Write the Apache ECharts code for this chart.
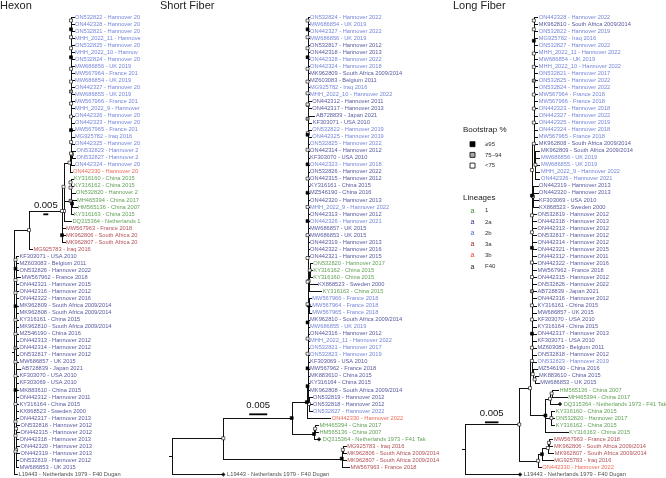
<!DOCTYPE html>
<html><head><meta charset="utf-8">
<script src="https://cdn.jsdelivr.net/npm/echarts@6/dist/echarts.min.js"></script>
<style>html,body{margin:0;padding:0;background:#fff}#c{width:666px;height:478px}</style>
</head><body><div id="c"></div>
<script>
// ---------------- DATA ----------------
const panelTitles = ['Hexon', 'Short Fiber', 'Long Fiber'];

const hexonLeaves = ["ON532822 - Hannover 2019","ON442328 - Hannover 2022","ON532821 - Hannover 2017","MHH_2022_11 - Hannover 2022","ON532825 - Hannover 2022","MHH_2022_10 - Hannover 2022","ON532824 - Hannover 2022","MW686856 - UK 2019","MW567964 - France 2018","MW686854 - UK 2019","ON442327 - Hannover 2022","MW686855 - UK 2019","MW567966 - France 2018","MHH_2022_9 - Hannover 2022","ON442326 - Hannover 2021","ON442323 - Hannover 2018","MW567965 - France 2018","MG925782 - Iraq 2016","ON442325 - Hannover 2019","ON532823 - Hannover 2019","ON532827 - Hannover 2022","ON442324 - Hannover 2018","ON442330 - Hannover 2022","KY316160 - China 2015","KY316162 - China 2015","ON532820 - Hannover 2017","MH465394 - China 2017","HM565136 - China 2007","KY316163 - China 2015","DQ315364 - Netherlands 1973 - F41 Tak","MW567963 - France 2018","MK962806 - South Africa 2009/2014","MK962807 - South Africa 2009/2014","MG925783 - Iraq 2016","KF303071 - USA 2010","MZ603083 - Belgium 2011","ON532826 - Hannover 2022","MW567962 - France 2018","ON442321 - Hannover 2015","ON442316 - Hannover 2012","ON442322 - Hannover 2016","MK962809 - South Africa 2009/2014","MK962808 - South Africa 2009/2014","KY316161 - China 2015","MK962810 - South Africa 2009/2014","MZ546190 - China 2016","ON442313 - Hannover 2012","ON442314 - Hannover 2012","ON532817 - Hannover 2012","MW686857 - UK 2015","AB728839 - Japan 2021","KF303070 - USA 2010","KF303069 - USA 2010","MK883610 - China 2015","ON442312 - Hannover 2011","KY316164 - China 2015","KX868523 - Sweden 2000","ON442317 - Hannover 2013","ON532818 - Hannover 2012","ON442315 - Hannover 2012","ON442318 - Hannover 2013","ON442320 - Hannover 2013","ON442319 - Hannover 2013","ON532819 - Hannover 2012","MW686853 - UK 2015","L19443 - Netherlands 1979 - F40 Dugan"];

const shortLeaves = ["ON532824 - Hannover 2022","MW686854 - UK 2019","ON442327 - Hannover 2022","MW686856 - UK 2019","ON532817 - Hannover 2012","ON442318 - Hannover 2013","ON442328 - Hannover 2022","ON442324 - Hannover 2018","MK962809 - South Africa 2009/2014","MZ603083 - Belgium 2011","MG925782 - Iraq 2016","MHH_2022_10 - Hannover 2022","ON442312 - Hannover 2011","ON442317 - Hannover 2013","AB728839 - Japan 2021","KF303071 - USA 2010","ON532822 - Hannover 2019","ON442325 - Hannover 2019","ON532825 - Hannover 2022","ON442314 - Hannover 2012","KF303070 - USA 2010","ON442323 - Hannover 2018","ON532826 - Hannover 2022","ON442315 - Hannover 2012","KY316161 - China 2015","MZ546190 - China 2016","ON442320 - Hannover 2013","MHH_2022_9 - Hannover 2022","ON442313 - Hannover 2012","ON442326 - Hannover 2021","MW686857 - UK 2015","MW686853 - UK 2015","ON442319 - Hannover 2013","ON442322 - Hannover 2016","ON442321 - Hannover 2015","ON532820 - Hannover 2017","KY316162 - China 2015","KY316160 - China 2015","KX868523 - Sweden 2000","KY316163 - China 2015","MW567966 - France 2018","MW567964 - France 2018","MW567965 - France 2018","MK962810 - South Africa 2009/2014","MW686855 - UK 2019","ON442316 - Hannover 2012","MHH_2022_11 - Hannover 2022","ON532821 - Hannover 2017","ON532823 - Hannover 2019","KF303069 - USA 2010","MW567962 - France 2018","MK883610 - China 2015","KY316164 - China 2015","MK962808 - South Africa 2009/2014","ON532819 - Hannover 2012","ON532818 - Hannover 2012","ON532827 - Hannover 2022","ON442330 - Hannover 2022","MH465394 - China 2017","HM565136 - China 2007","DQ315364 - Netherlands 1973 - F41 Tak","MG925783 - Iraq 2016","MK962806 - South Africa 2009/2014","MK962807 - South Africa 2009/2014","MW567963 - France 2018","L19443 - Netherlands 1979 - F40 Dugan"];

const longLeaves = ["ON442328 - Hannover 2022","MK962810 - South Africa 2009/2014","ON532822 - Hannover 2019","MG925782 - Iraq 2016","ON532827 - Hannover 2022","MHH_2022_11 - Hannover 2022","MW686854 - UK 2019","MHH_2022_10 - Hannover 2022","ON532821 - Hannover 2017","ON532825 - Hannover 2022","ON532824 - Hannover 2022","MW567964 - France 2018","MW567966 - France 2018","ON442323 - Hannover 2018","ON442327 - Hannover 2022","ON442325 - Hannover 2019","ON442324 - Hannover 2018","MW567965 - France 2018","MK962808 - South Africa 2009/2014","MK962809 - South Africa 2009/2014","MW686856 - UK 2019","MW686855 - UK 2019","MHH_2022_9 - Hannover 2022","ON442326 - Hannover 2021","ON442319 - Hannover 2013","ON442320 - Hannover 2013","KF303069 - USA 2010","KX868523 - Sweden 2000","ON532819 - Hannover 2012","ON442318 - Hannover 2013","ON442313 - Hannover 2012","ON532817 - Hannover 2012","ON442314 - Hannover 2012","ON442321 - Hannover 2015","ON442312 - Hannover 2011","ON442322 - Hannover 2016","MW567962 - France 2018","ON442315 - Hannover 2012","ON532826 - Hannover 2022","AB728839 - Japan 2021","ON442316 - Hannover 2012","KY316161 - China 2015","MW686857 - UK 2015","KF303070 - USA 2010","KY316164 - China 2015","ON442317 - Hannover 2013","KF303071 - USA 2010","MZ603083 - Belgium 2011","ON532818 - Hannover 2012","ON532823 - Hannover 2019","MZ546190 - China 2016","MK883610 - China 2015","MW686853 - UK 2015","HM565136 - China 2007","MH465394 - China 2017","DQ315364 - Netherlands 1973 - F41 Tak","KY316160 - China 2015","ON532820 - Hannover 2017","KY316162 - China 2015","KY316163 - China 2015","MW567963 - France 2018","MK962806 - South Africa 2009/2014","MK962807 - South Africa 2009/2014","MG925783 - Iraq 2016","ON442330 - Hannover 2022","L19443 - Netherlands 1979 - F40 Dugan"];

// lineage membership by accession (everything not listed is lineage 2a)
const lineage1  = ["KY316160","KY316162","ON532820","MH465394","HM565136","KY316163","DQ315364"];
const lineage2b = ["ON532822","ON442328","ON532821","MHH_2022_11","ON532825","MHH_2022_10","ON532824","MW686856","MW567964","MW686854","ON442327","MW686855","MW567966","MHH_2022_9","ON442326","ON442323","MW567965","MG925782","ON442325","ON532823","ON532827","ON442324"];
const lineage3a = ["MW567963","MK962806","MK962807","MG925783"];
const lineage3b = ["ON442330"];
const lineageF40 = ["L19443"];
const lineageNames = ['1','2a','2b','3a','3b','F40'];
const bootstrapClasses = ['≥95','75–94','<75'];   // node labels B, G, W

// Trees (Newick, substitutions/site; leaf = index into the panel's leaf list, node label = bootstrap class)
const hexC2b = "(".repeat(13) + "0:0.0025,1:0.0025)W,2:0.0025,3:0.0025)B,4:0.0025)W,5:0.0025,6:0.0025)W,7:0.0025)B,8:0.0025,9:0.0025)W,10:0.0025,11:0.0025)W,12:0.0025)G,13:0.0025,14:0.0025)W,15:0.0025,16:0.0025)W,17:0.0025,18:0.0025)B,(19:0.003,20:0.003)W:0.001)W,21:0.0025)W";
const hexC2a = "(".repeat(15) + "34:0.0025,35:0.0025)W,36:0.0025,37:0.0045)B,38:0.0025,39:0.0025)W,40:0.0025,41:0.0025)W,42:0.0025,43:0.0025)B,44:0.0025,45:0.0025)W,46:0.0025,47:0.0025)W,48:0.0025,49:0.0025)G,50:0.0045,51:0.0025)W,52:0.0025,53:0.0025)W,54:0.0025,55:0.0025)B,56:0.0025,57:0.0025)W,(58:0.003,59:0.003)W:0.0005,60:0.0025)W,(61:0.003,62:0.003)W:0.0005)W,63:0.0025,64:0.0025)W";
const hexG1 = "(((23:0.002,24:0.002)W,25:0.004)W,(26:0.0035,27:0.0045)B:0.0015,28:0.002)G";
const hexonNewick = "((((((" + hexC2b + ":0.0015,22:0.002)W:0.006,(" + hexG1 + ":0.0065,29:0.007)W:0.0005)W:0.0015,(30:0.0025,31:0.0025,32:0.0025)B)W:0.033,33:0.003)W:0.015," + hexC2a + ":0.0015,65:0.003):0.002);";

const sfGreen = "((35:0.0006,36:0.0006,37:0.0006)W:0.0003,38:0.0022,39:0.0035)W:0.0003";
const sfComb = "(".repeat(26) + "0:0.0003,1:0.0003)W,2:0.0003,3:0.0003)B,4:0.0003)W,5:0.0003,6:0.0003)W,7:0.0003)B,8:0.0003,9:0.0003)W,10:0.0003,11:0.0003)W,(12:0.0008,13:0.0008)W:0.0001)W,14:0.0019)W,15:0.001,(16:0.0008,17:0.0008)W:0.0001)G,18:0.0003,19:0.0003)B,20:0.0003,21:0.0003)W,22:0.0003,23:0.0003)B,24:0.0003,25:0.0003)W,26:0.0003,27:0.0003)B,28:0.0003,29:0.0003)W,30:0.0003,31:0.0003)B,32:0.0003,33:0.0003)W,34:0.0003," + sfGreen + ")W,(40:0.0006,41:0.0006,42:0.0006)B:0.0003)W,43:0.0003,44:0.0003)W,45:0.0003,46:0.0003)B,47:0.0003,48:0.0003)W,49:0.0003,50:0.0003)W,51:0.0003,52:0.0003)B,53:0.0003,(54:0.0007,55:0.0007,56:0.0007)W:0.0004)B";
const shortNewick = "(((((" + sfComb + ":0.0002,57:0.0065)B:0.0042,((58:0.0008,59:0.0008)W:0.0003,60:0.0014)B:0.0062)B:0.019,((61:0.0008,62:0.0008)W:0.0003,63:0.0011,64:0.002)B:0.0329)W:0.0142,65:0.0142):0.0008);";

const lfUpper = "(".repeat(10) + "0:0.0013,1:0.0013)W,2:0.0013,3:0.0013)W,4:0.0013,5:0.0013)B,6:0.0013,7:0.0013)W,8:0.0013,9:0.0013)W,10:0.0013,11:0.0013)G,12:0.0013,13:0.0013)W,14:0.0013,15:0.0013)W,16:0.0013,17:0.0013)W,18:0.0013,(19:0.0015,20:0.0015,21:0.0015,22:0.0015,23:0.0015)W:0.0006)W";
const lfComb = "(".repeat(13) + lfUpper + ":0.0007,(24:0.0017,25:0.0017,26:0.0017,27:0.0017)W:0.0004)W,28:0.0015,29:0.0015)B,30:0.0015,31:0.0015)W,32:0.0015,33:0.0015)W,34:0.0015,35:0.0015)B,36:0.0015,37:0.0015)W,38:0.0015,39:0.0015)W,40:0.0015,41:0.0015)G,42:0.0015,43:0.0015)W,44:0.0015,45:0.0015)W,46:0.0015,47:0.0015)B,48:0.0015,49:0.0015)W,(50:0.0015,(51:0.0011,52:0.0015)W:0.0007)W:0.0003)W";
const lfGreen = "(((53:0.0024,54:0.0056)W:0.0006,55:0.0037)W:0.0017,(56:0.0011,57:0.0011,58:0.0011)W:0.0022,59:0.0083)B";
const longNewick = "((((" + lfComb + ":0.0007," + lfGreen + ":0.0057)W:0.004,((((60:0.0013,61:0.0013)W:0.0004,62:0.002)W:0.0022,63:0.004)B:0.0014,64:0.001)W:0.007)W:0.0201,65:0.0204):0.0011);";

const refStrains = ["DQ315364", "L19443"];
const scaleBarLength = 0.005;

// ---------------- LAYOUT / STYLE ----------------
const lineageColor = {'1':'#3a8a2c','2a':'#2c2f86','2b':'#5268d0','3a':'#9e2328','3b':'#e8462e','F40':'#1a1a1a'};
const bootFill = {B:'#000000', G:'#a8a8a8', W:'#ffffff'};
const FONT = '"Liberation Sans", Arial, sans-serif';
const TOP = 17, ROWH = 7.037, NLEAF = 66;
const panels = [
  {newick: hexonNewick, leaves: hexonLeaves, left: 12, width: 150, ppu: 1000, clip: 142, dots: false, bar: [0.0313, 28.04]},
  {newick: shortNewick, leaves: shortLeaves, left: 169.3, width: 230, ppu: 3600, clip: null, dots: true, bar: [0.0222, 56.46]},
  {newick: longNewick, leaves: longLeaves, left: 462, width: 204, ppu: 2700, clip: null, dots: true, bar: [0.0085, 57.6]}
];

function lineageOf(acc){
  if (lineage1.includes(acc)) return '1';
  if (lineage2b.includes(acc)) return '2b';
  if (lineage3a.includes(acc)) return '3a';
  if (lineage3b.includes(acc)) return '3b';
  if (lineageF40.includes(acc)) return 'F40';
  return '2a';
}

function parseNewick(s){
  let i = 0;
  function node(){
    const n = {children: [], len: 0, label: ''};
    if (s[i] === '('){
      i++;
      while (true){
        n.children.push(node());
        if (s[i] === ','){ i++; continue; }
        if (s[i] === ')'){ i++; break; }
        throw new Error('Newick parse error at ' + i + ' "' + s.slice(i, i+20) + '"');
      }
    }
    let lab = '';
    while (i < s.length && !',):;'.includes(s[i])) lab += s[i++];
    n.label = lab.trim();
    if (s[i] === ':'){
      i++; let num = '';
      while (i < s.length && !',);'.includes(s[i])) num += s[i++];
      n.len = parseFloat(num);
    }
    return n;
  }
  return node();
}

function layoutTree(root){
  const segs = [], boots = [], tips = [];
  (function place(n, x){
    n.x = x;
    if (!n.children.length){ n.y = parseInt(n.label, 10); tips.push(n); return; }
    n.children.forEach(c => place(c, x + c.len));
    n.y = (n.children[0].y + n.children[n.children.length-1].y) / 2;
  })(root, 0);
  (function draw(n){
    if (!n.children.length) return;
    const f = n.children[0], l = n.children[n.children.length-1];
    if (f.y !== l.y) segs.push([n.x, f.y, n.x, l.y]);
    n.children.forEach(c => { if (c.x !== n.x) segs.push([n.x, c.y, c.x, c.y]); draw(c); });
    if (bootFill[n.label]) boots.push({value: [n.x, n.y], itemStyle: {color: bootFill[n.label]}});
  })(root);
  return {segs, boots, tips};
}

const grids = [], xAxes = [], yAxes = [], series = [];
panels.forEach((p, k) => {
  let t;
  try { t = layoutTree(parseNewick(p.newick)); }
  catch (e) { console.error('panel ' + k + ': ' + e.message); return; }
  grids.push({left: p.left, top: TOP, width: p.width, height: ROWH * (NLEAF - 1)});
  xAxes.push({type: 'value', gridIndex: k, min: 0, max: p.width / p.ppu, show: false});
  yAxes.push({type: 'value', gridIndex: k, min: 0, max: NLEAF - 1, inverse: true, show: false});
  const snap = v => Math.round(v) + 0.5;
  series.push({
    type: 'custom', xAxisIndex: k, yAxisIndex: k, silent: true, z: 2,
    data: t.segs, encode: {x: [0, 2], y: [1, 3]},
    renderItem: (params, api) => {
      const a = api.coord([api.value(0), api.value(1)]);
      const b = api.coord([api.value(2), api.value(3)]);
      return {type: 'line', shape: {x1: snap(a[0]), y1: snap(a[1]), x2: snap(b[0]), y2: snap(b[1])},
        style: {stroke: '#111', lineWidth: 1, lineCap: 'square'}};
    }
  });
  series.push({
    type: 'scatter', xAxisIndex: k, yAxisIndex: k, silent: true, z: 4,
    symbol: 'rect', symbolSize: 3,
    itemStyle: {borderColor: '#000', borderWidth: 0.6, opacity: 1},
    data: t.boots
  });
  const leafData = t.tips.map(n => {
    const name = p.leaves[n.y];
    const acc = name.split(' - ')[0];
    const isRef = p.dots && refStrains.includes(acc);
    const item = {
      name: name, value: [n.x, n.y],
      symbol: 'diamond', symbolSize: isRef ? 4.5 : 0,
      itemStyle: {color: '#000'},
      label: {color: lineageColor[lineageOf(acc)]}
    };
    if (p.clip){
      const startPx = p.left + n.x * p.ppu + 1.5;
      item.label.width = Math.max(4, p.clip - startPx);
      item.label.overflow = 'truncate';
      item.label.ellipsis = '';
    }
    return item;
  });
  series.push({
    type: 'scatter', xAxisIndex: k, yAxisIndex: k, silent: true, z: 3,
    data: leafData,
    label: {show: true, position: 'right', distance: 1.5, formatter: '{b}',
      fontSize: 5.7, fontFamily: FONT}
  });
  series.push({
    type: 'custom', xAxisIndex: k, yAxisIndex: k, silent: true, z: 3,
    data: [[p.bar[0], p.bar[1], p.bar[0] + scaleBarLength]],
    encode: {x: [0, 2], y: 1},
    renderItem: (params, api) => {
      const a = api.coord([api.value(0), api.value(1)]);
      const b = api.coord([api.value(2), api.value(1)]);
      return {type: 'group', children: [
        {type: 'line', shape: {x1: a[0], y1: a[1], x2: b[0], y2: a[1]}, style: {stroke: '#000', lineWidth: 1.8}},
        {type: 'text', x: (a[0] + b[0]) / 2, y: a[1] - 8.5,
          style: {text: String(scaleBarLength), fontSize: 9.5, fontFamily: FONT, fill: '#111', align: 'center', verticalAlign: 'middle'}}
      ]};
    }
  });
});

// legends (graphic)
const graphic = [];
graphic.push({type: 'text', x: 463, y: 130, style: {text: 'Bootstrap %', fontSize: 8, fontFamily: FONT, fill: '#222', verticalAlign: 'middle'}});
['B','G','W'].forEach((c, i) => {
  const yc = 144.2 + i * 10.7;
  graphic.push({type: 'rect', shape: {x: 470, y: yc - 2.5, width: 5, height: 5}, style: {fill: bootFill[c], stroke: '#000', lineWidth: 0.8}});
  graphic.push({type: 'text', x: 485, y: yc, style: {text: bootstrapClasses[i], fontSize: 6, fontFamily: FONT, fill: '#333', verticalAlign: 'middle'}});
});
graphic.push({type: 'text', x: 463, y: 198, style: {text: 'Lineages', fontSize: 8, fontFamily: FONT, fill: '#222', verticalAlign: 'middle'}});
lineageNames.forEach((ln, i) => {
  const yc = 210.7 + i * 11.2;
  graphic.push({type: 'text', x: 472.5, y: yc, style: {text: 'a', fontSize: 7, fontFamily: FONT, fill: lineageColor[ln], align: 'center', verticalAlign: 'middle'}});
  graphic.push({type: 'text', x: 485, y: yc, style: {text: ln, fontSize: 6, fontFamily: FONT, fill: '#333', verticalAlign: 'middle'}});
});

const titleLefts = [0, 160, 453];
const chart = echarts.init(document.getElementById('c'), null, {renderer: 'canvas'});
chart.setOption({
  animation: false,
  backgroundColor: '#fff',
  title: panelTitles.map((t, i) => ({text: t, left: titleLefts[i], top: 0, padding: 0,
    textStyle: {fontSize: 11, fontWeight: 'normal', color: '#222', fontFamily: FONT}})),
  grid: grids, xAxis: xAxes, yAxis: yAxes, series: series, graphic: graphic
});
</script>
</body></html>
